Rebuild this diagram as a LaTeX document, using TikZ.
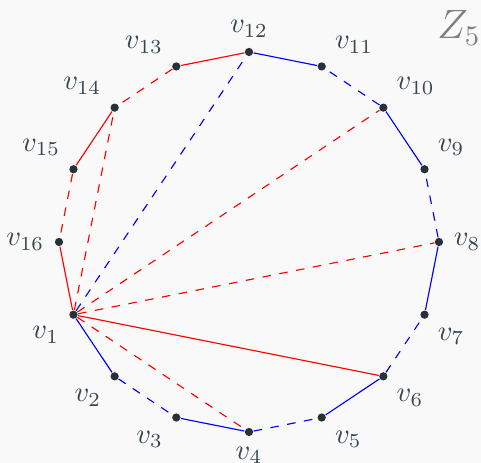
\documentclass[tikz,border=0pt]{standalone}
\usepackage{amsmath}
\usepackage{tikz}
\usetikzlibrary{calc}
\definecolor{dotgray}{HTML}{263238}
\definecolor{labelgray}{HTML}{37474F}
\definecolor{bggray}{HTML}{F9F9F9}
\begin{document}
\begin{tikzpicture}[x=0.351pt,y=0.351pt,
  vtx/.style={circle,fill=dotgray,inner sep=0pt,minimum size=2.9pt},
  every label/.style={text=labelgray},
  every edge/.style={draw,thin}]
\fill[bggray] (-249,-221) rectangle (232,242);
\useasboundingbox (-249,-221) rectangle (232,242);
\node[vtx, name=v1, label=202.5:$v_{1}$] at (202.5:190) {};
\node[vtx, name=v2, label=225:$v_{2}$] at (225:190) {};
\node[vtx, name=v3, label=225:$v_{3}$] at (247.5:190) {};
\node[vtx, name=v4, label=270:$v_{4}$] at (270:190) {};
\node[vtx, name=v5, label=315:$v_{5}$] at (292.5:190) {};
\node[vtx, name=v6, label=315:$v_{6}$] at (315:190) {};
\node[vtx, name=v7, label=315:$v_{7}$] at (337.5:190) {};
\node[vtx, name=v8, label=0:$v_{8}$] at (0:190) {};
\node[vtx, name=v9, label=45:$v_{9}$] at (22.5:190) {};
\node[vtx, name=v10, label=45:$v_{10}$] at (45:190) {};
\node[vtx, name=v11, label=45:$v_{11}$] at (67.5:190) {};
\node[vtx, name=v12, label=90:$v_{12}$] at (90:190) {};
\node[vtx, name=v13, label=135:$v_{13}$] at (112.5:190) {};
\node[vtx, name=v14, label=135:$v_{14}$] at (135:190) {};
\node[vtx, name=v15, label=135:$v_{15}$] at (157.5:190) {};
\node[vtx, name=v16, label=180:$v_{16}$] at (180:190) {};
\node[name=title, text=gray, font=\Large] at (210,214) {$Z_5$};

\draw(v1) edge[blue](v2);
\draw(v2) edge[blue, dashed](v3);
\draw(v3) edge[blue](v4);
\draw(v4) edge[blue, dashed](v5);
\draw(v5) edge[blue](v6);
\draw(v6) edge[blue, dashed](v7);
\draw(v7) edge[blue](v8);
\draw(v8) edge[blue, dashed](v9);
\draw(v9) edge[blue](v10);
\draw(v10) edge[blue, dashed](v11);
\draw(v11) edge[blue](v12);
\draw(v12) edge[red](v13);
\draw(v13) edge[red, dashed](v14);
\draw(v14) edge[red](v15);
\draw(v15) edge[red, dashed](v16);
\draw(v16) edge[red](v1);
\draw(v1) edge[red, dashed](v4);
\draw(v1) edge[red](v6);
\draw(v1) edge[red, dashed](v8);
\draw(v1) edge[red, dashed](v10);
\draw(v1) edge[blue, dashed](v12);
\draw(v1) edge[red, dashed](v14);
\end{tikzpicture}
\end{document}
